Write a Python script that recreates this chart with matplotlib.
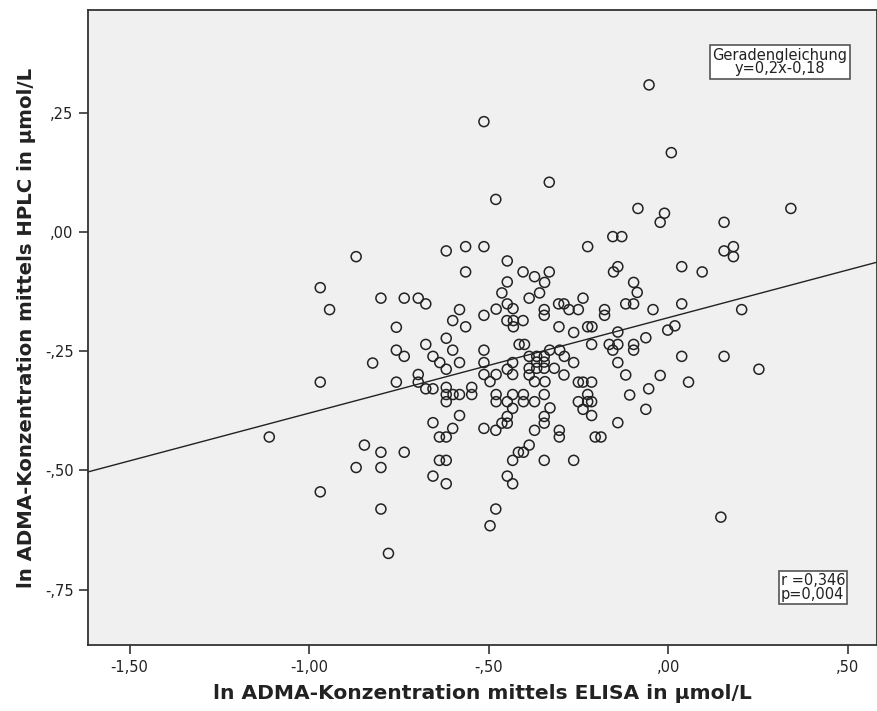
import matplotlib
matplotlib.use("Agg")
import matplotlib.pyplot as plt
from matplotlib.ticker import FixedLocator, FixedFormatter
from matplotlib import font_manager

# ---- data ----
elisa = [
    -0.513, -0.480, -0.869, -0.618, -0.564, -0.513, -0.448, -0.564, -0.404, -0.969,
    -0.448, -0.463, -0.800, -0.735, -0.696, -0.675, -0.943, -0.581, -0.448, -0.432,
    -0.479, -0.513, -0.600, -0.449, -0.431, -0.404, -0.757, -0.564, -0.431, -0.053,
    0.009, -0.331, -0.084, -0.010, -0.022, 0.342, 0.156, 0.182, 0.156, 0.182,
    -0.154, -0.129, -0.224, -0.140, -0.152, 0.038, 0.095, -0.372, -0.331, -0.344,
    -0.358, -0.387, -0.096, -0.086, -0.237, -0.305, -0.290, -0.276, -0.250, -0.345,
    -0.345, -0.177, -0.177, -0.118, -0.096, -0.042, 0.038, 0.205, -0.304, -0.263,
    -0.224, -0.212, -0.140, 0.019, -0.001, -0.618, -0.675, -0.757, -0.735, -0.600,
    -0.655, -0.636, -0.581, -0.618, -0.513, -0.513, -0.433, -0.415, -0.400, -0.823,
    -0.969, -0.757, -0.696, -0.696, -0.675, -0.655, -0.618, -0.618, -0.618, -0.599,
    -0.581, -0.547, -0.547, -0.513, -0.479, -0.496, -0.448, -0.433, -0.479, -0.479,
    -0.448, -0.433, -0.403, -0.403, -0.433, -0.448, -0.463, -0.448, -0.513, -0.480,
    -0.581, -0.655, -0.600, -0.637, -0.618, -1.111, -0.846, -0.800, -0.735, -0.869,
    -0.800, -0.637, -0.618, -0.655, -0.618, -0.448, -0.433, -0.433, -0.417, -0.403,
    -0.969, -0.800, -0.480, -0.496, -0.779, -0.062, -0.213, -0.164, -0.140, -0.154,
    -0.096, -0.096, -0.330, -0.302, -0.289, -0.263, 0.038, 0.156, 0.253, -0.140,
    -0.118, -0.022, 0.057, -0.054, -0.107, -0.062, -0.140, -0.387, -0.366, -0.345,
    -0.366, -0.345, -0.387, -0.366, -0.345, -0.387, -0.317, -0.290, -0.343, -0.372,
    -0.250, -0.237, -0.213, -0.345, -0.224, -0.372, -0.250, -0.224, -0.213, -0.237,
    -0.329, -0.345, -0.345, -0.213, -0.372, -0.303, -0.303, -0.203, -0.187, -0.387,
    -0.345, -0.263, 0.147,
]
hplc = [
    0.231, 0.068, -0.052, -0.040, -0.031, -0.031, -0.061, -0.084, -0.084, -0.117,
    -0.105, -0.128, -0.139, -0.139, -0.139, -0.151, -0.163, -0.163, -0.151, -0.161,
    -0.162, -0.175, -0.186, -0.186, -0.186, -0.186, -0.200, -0.199, -0.199, 0.308,
    0.166, 0.104, 0.049, 0.039, 0.020, 0.049, 0.020, -0.031, -0.040, -0.052,
    -0.010, -0.010, -0.031, -0.073, -0.084, -0.073, -0.084, -0.094, -0.084, -0.106,
    -0.128, -0.139, -0.106, -0.127, -0.139, -0.151, -0.151, -0.163, -0.163, -0.163,
    -0.175, -0.163, -0.175, -0.151, -0.151, -0.163, -0.151, -0.163, -0.199, -0.211,
    -0.199, -0.199, -0.210, -0.197, -0.206, -0.223, -0.236, -0.248, -0.261, -0.248,
    -0.261, -0.274, -0.274, -0.288, -0.248, -0.274, -0.274, -0.236, -0.236, -0.275,
    -0.315, -0.315, -0.299, -0.315, -0.329, -0.329, -0.326, -0.341, -0.356, -0.341,
    -0.341, -0.326, -0.341, -0.299, -0.299, -0.314, -0.288, -0.299, -0.341, -0.356,
    -0.356, -0.341, -0.341, -0.356, -0.370, -0.387, -0.401, -0.401, -0.412, -0.416,
    -0.385, -0.400, -0.412, -0.430, -0.430, -0.430, -0.447, -0.462, -0.462, -0.494,
    -0.494, -0.479, -0.479, -0.512, -0.528, -0.512, -0.528, -0.479, -0.462, -0.462,
    -0.545, -0.581, -0.581, -0.616, -0.674, -0.222, -0.236, -0.236, -0.236, -0.248,
    -0.236, -0.248, -0.248, -0.248, -0.261, -0.274, -0.261, -0.261, -0.288, -0.274,
    -0.300, -0.301, -0.315, -0.329, -0.342, -0.372, -0.400, -0.261, -0.261, -0.261,
    -0.273, -0.273, -0.286, -0.286, -0.286, -0.300, -0.286, -0.300, -0.314, -0.314,
    -0.315, -0.315, -0.315, -0.341, -0.341, -0.356, -0.356, -0.356, -0.356, -0.372,
    -0.369, -0.387, -0.401, -0.385, -0.416, -0.416, -0.430, -0.430, -0.430, -0.447,
    -0.479, -0.479, -0.598,
]
fit_slope = 0.2
fit_intercept = -0.18

x_ticks = [-1.5, -1.0, -0.5, 0.0, 0.5]
x_tick_labels = ["-1,50", "-1,00", "-,50", ",00", ",50"]
y_ticks = [0.25, 0.0, -0.25, -0.5, -0.75]
y_tick_labels = [",25", ",00", "-,25", "-,50", "-,75"]

x_label = "ln ADMA-Konzentration mittels ELISA in µmol/L"
y_label = "ln ADMA-Konzentration mittels HPLC in µmol/L"
eq_text = "Geradengleichung\ny=0,2x-0,18"
stat_text = "r =0,346\np=0,004"

# ---- styling ----
names = {f.name for f in font_manager.fontManager.ttflist}
narrow = "Liberation Sans Narrow" if "Liberation Sans Narrow" in names else "DejaVu Sans"
plt.rcParams["font.family"] = [narrow, "DejaVu Sans"]

W, H = 878, 711
fig = plt.figure(figsize=(W / 100, H / 100), dpi=100)
fig.patch.set_facecolor("white")
ax = fig.add_axes([88 / W, (H - 645) / H, (877 - 88) / W, (645 - 10) / H])
ax.set_facecolor("#F0F0F0")

xlim = (-1.616, 0.582)
ylim = (-0.866, 0.465)
ax.set_xlim(*xlim)
ax.set_ylim(*ylim)

ax.scatter(elisa, hplc, s=52, facecolors="none", edgecolors="#222222",
           linewidths=1.1, zorder=3)

lx = list(xlim)
ly = [fit_slope * v + fit_intercept for v in lx]
ax.plot(lx, ly, color="#222222", lw=1.0, zorder=2)

ax.xaxis.set_major_locator(FixedLocator(x_ticks))
ax.xaxis.set_major_formatter(FixedFormatter(x_tick_labels))
ax.yaxis.set_major_locator(FixedLocator(y_ticks))
ax.yaxis.set_major_formatter(FixedFormatter(y_tick_labels))
ax.tick_params(axis="both", direction="out", length=6.5, width=1.2,
               color="#333333", labelsize=10.5, labelcolor="#222222", pad=4)

for s in ax.spines.values():
    s.set_color("#333333")
    s.set_linewidth(1.3)

ax.set_xlabel(x_label, fontsize=14.6, fontweight="bold", color="#222222", labelpad=7)
ax.set_ylabel(y_label, fontsize=14.2, fontweight="bold", color="#222222", labelpad=6)

box = dict(boxstyle="square,pad=0.15", facecolor="white", edgecolor="#555555", linewidth=1.2)
ax.text(0.877, 0.918, eq_text, transform=ax.transAxes, ha="center", va="center",
        fontsize=10.5, linespacing=0.9, color="#222222", bbox=box, zorder=5)
ax.text(0.878, 0.091, stat_text, transform=ax.transAxes, ha="left", va="center",
        fontsize=10.5, linespacing=0.9, color="#222222", bbox=box, zorder=5)

fig.savefig("out.png", dpi=100)
